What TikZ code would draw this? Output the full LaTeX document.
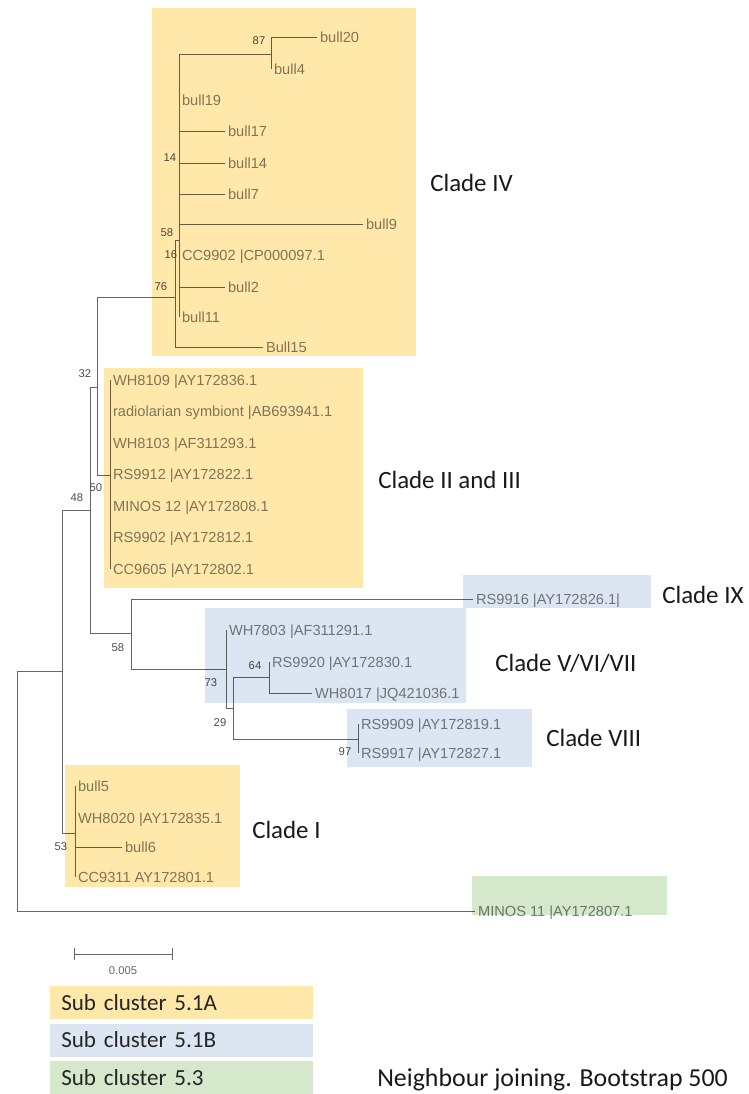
\documentclass[tikz,border=0pt]{standalone}
\usepackage{fontspec}
\setmainfont{Liberation Sans}
\newfontfamily\cladefont{Carlito}
\usetikzlibrary{positioning, arrows.meta}

\definecolor{yelbox}{HTML}{FFE8AA}
\definecolor{bluebox}{HTML}{DCE6F2}
\definecolor{grnbox}{HTML}{D5E8CB}
\definecolor{treegray}{HTML}{666666}

\tikzset{
  branch/.style={draw=treegray, line width=0.6pt},
  leaf/.style={anchor=west, inner xsep=2pt, inner ysep=1pt, text height=7.5pt, text depth=0pt,
    text=black!50, font=\fontsize{10.4}{12}\selectfont},
  boot/.style={inner sep=0pt, text=black!70, font=\fontsize{8}{9}\selectfont},
  clade/.style={anchor=west, inner sep=0pt, text=black!90, font=\cladefont\fontsize{17.7}{20}\selectfont},
  legbox/.style={anchor=west, minimum width=6.575cm, minimum height=0.825cm, inner xsep=0.275cm,
    text width=6.025cm, align=left, text=black!85, font=\cladefont\fontsize{16.4}{18}\selectfont},
}

\begin{document}
\begin{tikzpicture}[x=0.025cm, y=-0.025cm]
    \useasboundingbox (0,0) rectangle (749,1094);

    % Internal nodes
    \coordinate (root) at (17,800);
    \coordinate (n48) at (62,671);
    \coordinate (n50) at (90,510);
    \coordinate (n32) at (97,387);
    \coordinate (n76) at (175,297);
    \coordinate (n14) at (179,240);
    \coordinate (n87) at (271,54);
    \coordinate (n23) at (110,475);
    \coordinate (n58) at (131,633);
    \coordinate (n73) at (226,669);
    \coordinate (n29) at (233,708);
    \coordinate (n64) at (269,677);
    \coordinate (n97) at (358,739);
    \coordinate (n53) at (75,833);

    % Leaves, clade IV
    \node[leaf] (bull20) at (317,37) {bull20};
    \node[leaf] (bull4) at (271,69) {bull4};
    \node[leaf] (bull19) at (179,100) {bull19};
    \node[leaf] (bull17) at (225,131) {bull17};
    \node[leaf] (bull14) at (225,163) {bull14};
    \node[leaf] (bull7) at (225,194) {bull7};
    \node[leaf] (bull9) at (363,224) {bull9};
    \node[leaf] (cc9902) at (179,255) {CC9902 |CP000097.1};
    \node[leaf] (bull2) at (225,287) {bull2};
    \node[leaf] (bull11) at (179,317) {bull11};
    \node[leaf] (bull15) at (263,347) {Bull15};

    % Leaves, clade II and III
    \node[leaf] (wh8109) at (110,380) {WH8109 |AY172836.1};
    \node[leaf] (radsym) at (110,411.5) {radiolarian symbiont |AB693941.1};
    \node[leaf] (wh8103) at (110,443) {WH8103 |AF311293.1};
    \node[leaf] (rs9912) at (110,474.5) {RS9912 |AY172822.1};
    \node[leaf] (minos12) at (110,506) {MINOS 12 |AY172808.1};
    \node[leaf] (rs9902) at (110,537.5) {RS9902 |AY172812.1};
    \node[leaf] (cc9605) at (110,569) {CC9605 |AY172802.1};

    % Leaves, clades V to IX
    \node[leaf] (rs9916) at (473,599) {RS9916 |AY172826.1|};
    \node[leaf] (wh7803) at (226,630) {WH7803 |AF311291.1};
    \node[leaf] (rs9920) at (269,662) {RS9920 |AY172830.1};
    \node[leaf] (wh8017) at (312,693) {WH8017 |JQ421036.1};
    \node[leaf] (rs9909) at (358,724) {RS9909 |AY172819.1};
    \node[leaf] (rs9917) at (358,753) {RS9917 |AY172827.1};

    % Leaves, clade I and outgroup
    \node[leaf] (bull5) at (75,786) {bull5};
    \node[leaf] (wh8020) at (75,818) {WH8020 |AY172835.1};
    \node[leaf] (bull6) at (122,847) {bull6};
    \node[leaf] (cc9311) at (75,877) {CC9311 AY172801.1};
    \node[leaf] (minos11) at (475,911) {MINOS 11 |AY172807.1};

    % Edges
    % root
    \draw[branch] (root) |- (n48);
    \draw[branch] (root) |- (minos11);
    \draw[branch] (n48) |- (n50);
    \draw[branch] (n48) |- (n53);
    \draw[branch] (n50) |- (n32);
    \draw[branch] (n50) |- (n58);
    \draw[branch] (n32) |- (n76);
    \draw[branch] (n32) |- (n23);

    % clade IV
    \draw[branch] (n76) |- (n14);
    \draw[branch] (n76) |- (bull15);
    \draw[branch] (n14) |- (n87);
    \draw[branch] (n87) |- (bull20);
    \draw[branch] (n87) |- (bull4);
    \draw[branch] (n14) |- (bull19);
    \draw[branch] (n14) |- (bull17);
    \draw[branch] (n14) |- (bull14);
    \draw[branch] (n14) |- (bull7);
    \draw[branch] (n14) |- (bull9);
    \draw[branch] (n14) |- (cc9902);
    \draw[branch] (n14) |- (bull2);
    \draw[branch] (n14) |- (bull11);

    % clade II and III
    \draw[branch] (n23) |- (wh8109);
    \draw[branch] (n23) |- (cc9605);

    % clades V to IX
    \draw[branch] (n58) |- (rs9916);
    \draw[branch] (n58) |- (n73);
    \draw[branch] (n73) |- (wh7803);
    \draw[branch] (n73) |- (n29);
    \draw[branch] (n29) |- (n64);
    \draw[branch] (n29) |- (n97);
    \draw[branch] (n64) |- (rs9920);
    \draw[branch] (n64) |- (wh8017);
    \draw[branch] (n97) |- (rs9909);
    \draw[branch] (n97) |- (rs9917);

    % clade I
    \draw[branch] (n53) |- (bull5);
    \draw[branch] (n53) |- (wh8020);
    \draw[branch] (n53) |- (bull6);
    \draw[branch] (n53) |- (cc9311);

    % Bootstrap values
    \node[boot] (b87) at (259,41) {87};
    \node[boot] (b14) at (170,158) {14};
    \node[boot] (b58a) at (167,233) {58};
    \node[boot] (b16) at (171,255) {16};
    \node[boot] (b76) at (161,287) {76};
    \node[boot] (b32) at (85,374) {32};
    \node[boot] (b48) at (77,498) {48};
    \node[boot] (b50) at (96,488) {50};
    \node[boot] (b58b) at (118,648) {58};
    \node[boot] (b73) at (211,683) {73};
    \node[boot] (b64) at (255,666) {64};
    \node[boot] (b29) at (220,723) {29};
    \node[boot] (b97) at (345,752) {97};
    \node[boot] (b53) at (61,847) {53};

    % Clade boxes
    \begin{scope}[blend mode=multiply]
        \fill[yelbox] (152,8) rectangle (416,356);
        \fill[yelbox] (104,368) rectangle (363,588);
        \fill[bluebox] (463,575) rectangle (651,608);
        \fill[bluebox] (205,608) rectangle (466,703);
        \fill[bluebox] (347,709) rectangle (532,767);
        \fill[yelbox] (65,765) rectangle (240,887);
        \fill[grnbox] (472,876) rectangle (667,915);
    \end{scope}

    % Clade names
    \node[clade] (lIV) at (430,183) {Clade IV};
    \node[clade] (lIIIII) at (378,480) {Clade II and III};
    \node[clade] (lIX) at (662,595) {Clade IX};
    \node[clade] (lVVII) at (495,663) {Clade V/VI/VII};
    \node[clade] (lVIII) at (546,738) {Clade VIII};
    \node[clade] (lI) at (252,830) {Clade I};

    % Scale bar
    \coordinate (sbl) at (74,954);
    \coordinate (sbr) at (173,954);
    \draw[branch, {Bar[width=8pt]}-{Bar[width=8pt]}] (sbl) -- (sbr);
    \node[boot, text=black!60] (sblab) at (123,971) {0.005};

    % Legend
    \node[legbox, fill=yelbox] (leg51a) at (50,1002.5) {Sub cluster 5.1A};
    \node[legbox, fill=bluebox] (leg51b) at (50,1040) {Sub cluster 5.1B};
    \node[legbox, fill=grnbox] (leg53) at (50,1077.5) {Sub cluster 5.3};
    \node[clade, font=\cladefont\fontsize{18.4}{20}\selectfont] (njnote) at (377,1080) {Neighbour joining. Bootstrap 500};
\end{tikzpicture}
\end{document}
